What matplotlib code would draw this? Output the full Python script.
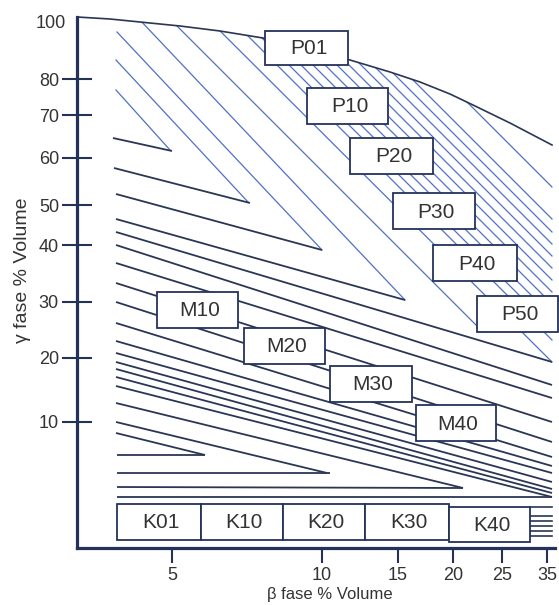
import matplotlib
matplotlib.use('Agg')
import matplotlib.pyplot as plt
from matplotlib.patches import Rectangle, Polygon

W, H = 559, 605
FONT = ['Liberation Sans', 'DejaVu Sans']
plt.rcParams['font.family'] = FONT

# ---- axis ticks (diagram positions) ----
y_tick_pos = [21, 79, 115, 158, 205, 245, 302, 358, 422]
y_tick_labels = ['100', '80', '70', '60', '50', '40', '30', '20', '10']
x_tick_pos = [172, 322, 398, 453, 502, 547]
x_tick_labels = ['5', '10', '15', '20', '25', '35']
x_label = 'β fase % Volume'
y_label = 'γ fase % Volume'

# ---- upper boundary curve ----
curve_x = [77, 110, 140, 180, 220, 263, 300, 350, 390, 420, 450, 473, 510, 552]
curve_y = [17, 19, 22, 26, 31, 38, 46, 60, 72, 82, 94, 105, 123, 145]

# ---- blue (P) hatch lines: start -> end ----
blue_x0 = [116, 116, 117, 121, 151, 189, 212, 224, 236, 248, 260, 272, 284, 296, 308, 320, 333, 365]
blue_y0 = [90, 60, 32, 0, 0, 0, 0, 0, 0, 0, 0, 0, 0, 0, 0, 0, 0, 0]
blue_x1 = [170, 248, 322, 405, 483, 552, 552, 552, 552, 552, 552, 552, 552, 552, 552, 552, 552, 552]
blue_y1 = [150, 202, 250, 300, 332, 362, 340, 328, 316, 304, 292, 280, 268, 256, 244, 232, 219, 187]

# ---- dark (M / K) lines: start -> end ----
dark_x0 = [113, 114, 116, 116, 116, 116, 116, 116, 116, 116, 116, 116, 116, 116, 116, 116,
           116, 116, 116, 117, 117, 117, 117]
dark_y0 = [138, 168, 194, 219, 232, 245, 263, 283, 302, 323, 341, 353, 362, 369, 377, 386,
           403, 422, 433, 455, 473, 487, 497]
dark_x1 = [172, 250, 322, 405, 552, 552, 552, 552, 552, 552, 552, 552, 552, 552, 552, 552,
           463, 327, 205, 205, 330, 463, 552]
dark_y1 = [151, 203, 250, 300, 362, 385, 398, 422, 442, 457, 466, 473, 482, 489, 493, 497,
           488, 473, 455, 455, 473, 488, 497]

# short lines right of K40
stub_y = [507, 516, 521, 526, 531, 536]
stub_x0, stub_x1 = 530, 552

# ---- label boxes ----
box_labels = ['P01', 'P10', 'P20', 'P30', 'P40', 'P50', 'M10', 'M20', 'M30', 'M40',
              'K01', 'K10', 'K20', 'K30', 'K40']
box_left = [265, 307, 350, 393, 433, 477, 157, 244, 330, 416, 117, 201, 283, 365, 449]
box_top = [31, 88, 138, 193, 245, 296, 292, 328, 366, 405, 504, 504, 504, 504, 507]
box_right = [348, 388, 433, 475, 517, 558, 238, 325, 412, 496, 201, 283, 365, 449, 530]
box_bottom = [65, 124, 174, 229, 281, 332, 328, 364, 402, 441, 540, 540, 540, 540, 542]

NAVY = '#24325a'
DARK = '#2a3656'
BLUE = '#4f70c8'
TXT = '#333333'

fig = plt.figure(figsize=(W / 100, H / 100), dpi=100)
fig.patch.set_facecolor('white')
ax = fig.add_axes([77 / W, (H - 548) / H, (W - 77) / W, 548 / H])
ax.set_xlim(77, W)
ax.set_ylim(548, 0)
ax.set_facecolor('none')

for s in ['top', 'right']:
    ax.spines[s].set_visible(False)
for s in ['left', 'bottom']:
    ax.spines[s].set_color(NAVY)
    ax.spines[s].set_linewidth(2.3)
ax.spines['left'].set_bounds(17, 548)
ax.spines['bottom'].set_bounds(77, 555)

ax.set_yticks(y_tick_pos, y_tick_labels)
ax.set_xticks(x_tick_pos, x_tick_labels)
ax.tick_params(axis='y', direction='inout', length=22, width=1.5, color=NAVY,
               labelsize=13, labelcolor=TXT, pad=2)
ax.tick_params(axis='x', direction='out', length=11, width=1.5, color=NAVY,
               labelsize=13, labelcolor=TXT, pad=3)
t100 = ax.yaxis.get_major_ticks()[0]
t100.tick1line.set_visible(False)
t100.set_pad(-3)

ax.set_xlabel(x_label, fontsize=12, color=TXT, va='center', ha='center')
ax.xaxis.set_label_coords(330, 595, transform=ax.transData)
ax.set_ylabel(y_label, fontsize=14, color=TXT, va='center', ha='center')
ax.yaxis.set_label_coords(23, 270, transform=ax.transData)

# clip region below the curve
clip_poly = Polygon(list(zip(curve_x, curve_y)) + [(560, 560), (77, 560)],
                    closed=True, transform=ax.transData)

ax.plot(curve_x, curve_y, color=DARK, lw=1.2, zorder=3, clip_on=False)

for x0, y0, x1, y1 in zip(blue_x0, blue_y0, blue_x1, blue_y1):
    ln, = ax.plot([x0, x1], [y0, y1], color=BLUE, lw=0.9, zorder=2)
    ln.set_clip_path(clip_poly)

for x0, y0, x1, y1 in zip(dark_x0, dark_y0, dark_x1, dark_y1):
    ax.plot([x0, x1], [y0, y1], color=DARK, lw=1.3, zorder=2, solid_capstyle='butt')

for y in stub_y:
    ax.plot([stub_x0, stub_x1], [y, y], color=DARK, lw=1.2, zorder=2)

for lab, l, t, r, b in zip(box_labels, box_left, box_top, box_right, box_bottom):
    ax.add_patch(Rectangle((l, t), r - l, b - t, facecolor='white', edgecolor=NAVY,
                           lw=1.3, zorder=4, clip_on=False))
    ax.text((l + r) / 2 + 2, (t + b) / 2 + 1, lab, ha='center', va='center',
            fontsize=15, color=TXT, zorder=5)

fig.savefig('out.png', dpi=100, facecolor='white')
